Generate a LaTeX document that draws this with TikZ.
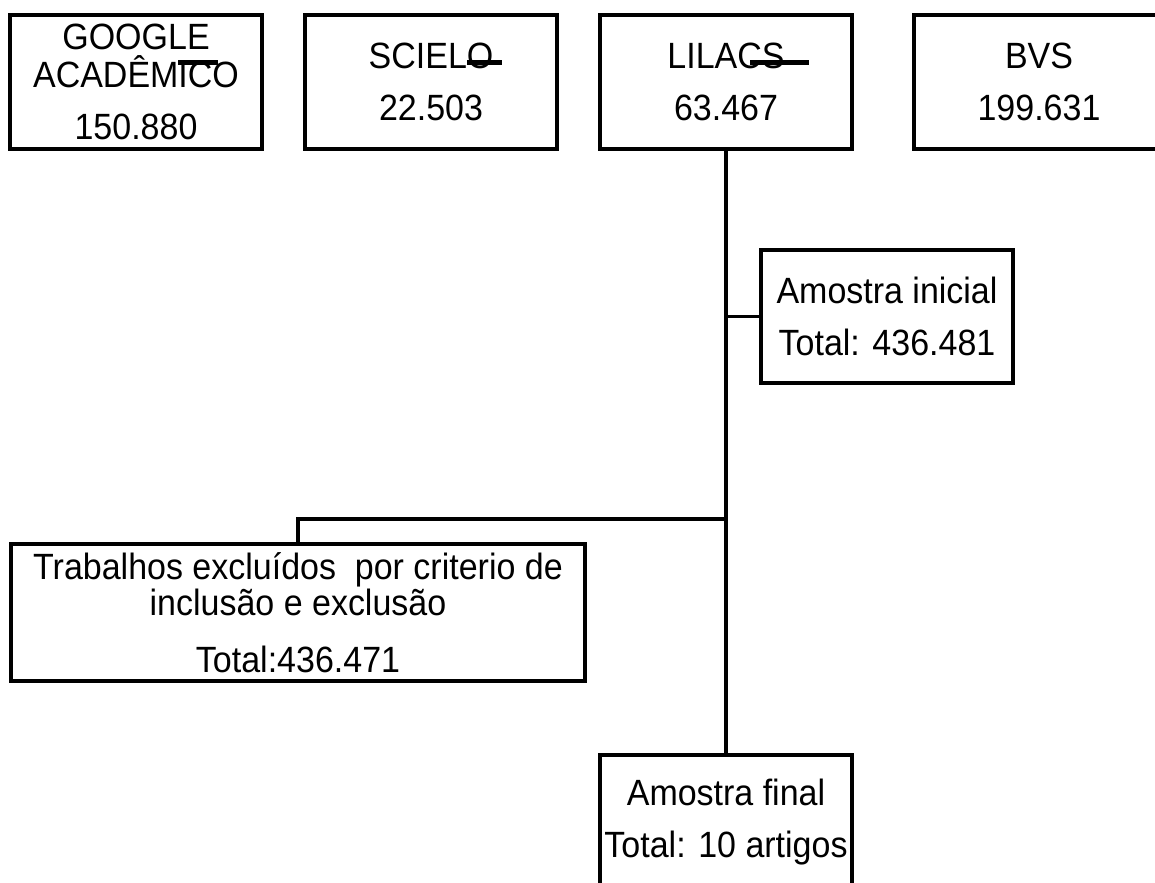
\documentclass[tikz,border=0pt]{standalone}
\usepackage{fontspec}
\setmainfont[FakeStretch=0.93]{Liberation Sans}
\usetikzlibrary{positioning}

\begin{document}
\begin{tikzpicture}[x=.02cm,y=-.02cm,line width=.065cm]
\tikzstyle{caixa}=[draw,shape=rectangle,line width=.08cm,minimum width=5.06cm,minimum height=2.68cm,inner sep=0pt,align=center,font=\fontsize{20.8pt}{29.6pt}\selectfont]
\useasboundingbox (0,0) rectangle (1155,882);

% top row of databases
\draw (136,82) node[caixa] (google) {GOOGLE\\[-8pt]ACADÊMICO\\150.880}; % google
\draw (431,82) node[caixa] (scielo) {SCIELO\\22.503}; % scielo
\draw (726,82) node[caixa] (lilacs) {LILACS\\63.467}; % lilacs
\draw (1039,82) node[caixa,minimum width=5cm] (bvs) {BVS\\199.631}; % bvs

% stray strokes over the names
\draw[line width=.1cm] (178,62.5) -- (218,62.5);
\draw[line width=.1cm] (467,62.5) -- (502,62.5);
\draw[line width=.1cm] (750,62.5) -- (809,62.5);

% samples
\draw (887,316.5) node[caixa] (ini) {Amostra inicial\\Total: 436.481}; % ini
\draw (298,612.5) node[caixa,minimum width=11.48cm,minimum height=2.74cm] (exc) {Trabalhos excluídos \ por criterio de\\[-9pt]inclusão e exclusão\\[3pt]Total:436.471}; % exc
\draw (726,822) node[caixa] (fin) {Amostra final\\Total: 10 artigos}; % fin

% trunk and branches
\coordinate (ramo) at (726,519);
\draw (lilacs) -- (fin);
\draw (ini.west) -- (ini.west -| lilacs.south);
\draw (exc.north) |- (ramo);
\end{tikzpicture}
\end{document}
